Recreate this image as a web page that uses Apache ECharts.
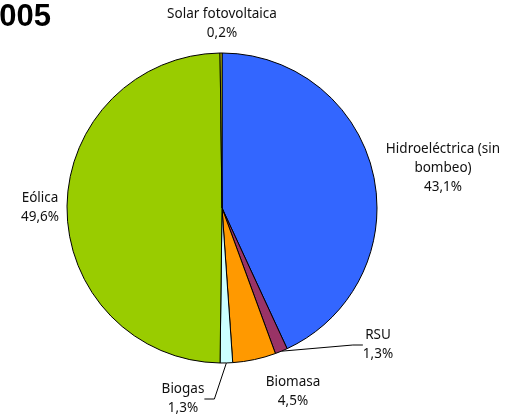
<!DOCTYPE html>
<html>
<head>
<meta charset="utf-8">
<script src="https://cdn.jsdelivr.net/npm/echarts@6/dist/echarts.min.js"></script>
<style>
  html, body { margin: 0; padding: 0; background: #fff; }
  #chart { width: 506px; height: 419px; }
</style>
</head>
<body>
<div id="chart"></div>
<script>
// Data
const fuentes = ['Hidroeléctrica (sin\nbombeo)', 'RSU', 'Biomasa', 'Biogas', 'Eólica', 'Solar fotovoltaica']
const porcentajes = [43.1, 1.3, 4.5, 1.3, 49.6, 0.2]
const colores = ['#3366FF', '#993366', '#FF9900', '#CCFFFF', '#99CC00', '#FFFF00']
const conLinea = [false, true, false, true, false, false]

// label anchor points (centre of label block)
const labelPos = [
  [443, 168],
  [378, 345],
  [293, 392],
  [183, 399],
  [40, 208],
  [222, 24]
]

const chart = echarts.init(document.getElementById('chart'))

const option = {
  animation: false,
  title: {
    text: '2005',
    left: -18,
    top: 2,
    padding: 0,
    textStyle: { fontFamily: 'Liberation Sans', fontSize: 31, fontWeight: 'bold', color: '#000' }
  },
  series: [
    {
      type: 'pie',
      center: [222, 208],
      radius: 155,
      startAngle: 90,
      clockwise: true,
      avoidLabelOverlap: false,
      itemStyle: { borderColor: '#000', borderWidth: 1 },
      label: {
        show: true,
        position: 'outside',
        fontFamily: 'Noto Sans',
        fontSize: 13.5,
        lineHeight: 19,
        color: '#111',
        align: 'center',
        formatter: p => p.name + '\n' + p.value.toFixed(1).replace('.', ',') + '%'
      },
      labelLine: { lineStyle: { color: '#000', width: 1 }, length: 10, length2: 10 },
      labelLayout: p => ({
        x: labelPos[p.dataIndex][0],
        y: labelPos[p.dataIndex][1],
        align: 'center',
        verticalAlign: 'middle'
      }),
      data: fuentes.map((name, i) => ({
        name,
        value: porcentajes[i],
        itemStyle: { color: colores[i] },
        labelLine: { show: conLinea[i] }
      }))
    }
  ]
}

chart.setOption(option)
</script>
</body>
</html>
